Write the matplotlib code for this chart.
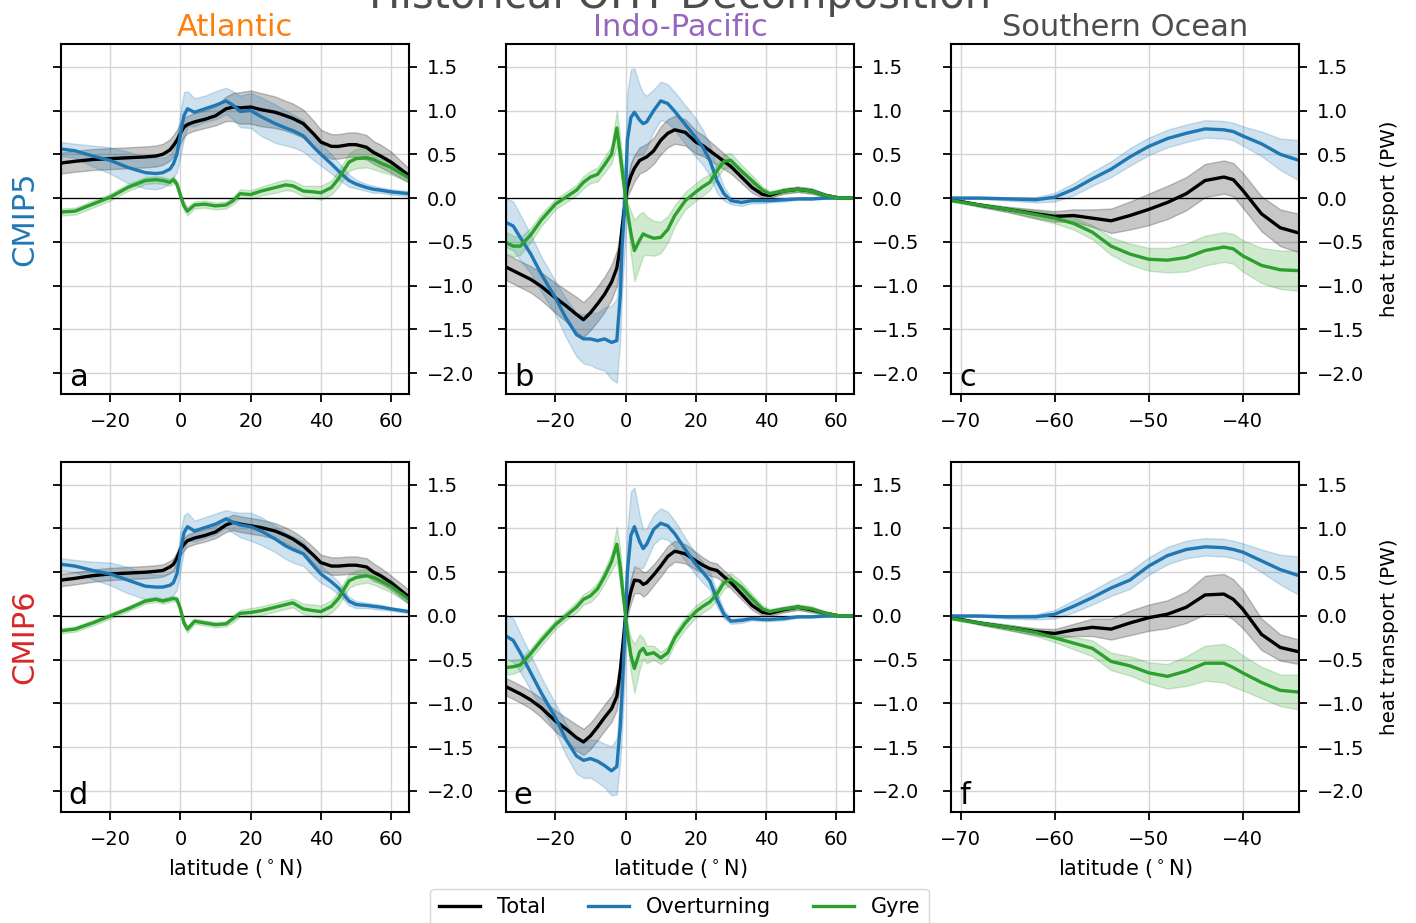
import numpy as np
import matplotlib
matplotlib.use("Agg")
import matplotlib.pyplot as plt

# ==============================
# 1. Data
# ==============================
# latitude grids
lat_atl = [-34, -30, -25, -20, -15, -10, -7, -5, -3, -2, -1, 0, 1, 2, 4, 7, 10, 13, 15, 17,
           20, 23, 27, 30, 32, 35, 38, 40, 43, 45, 48, 50, 53, 55, 57, 60, 65]
lat_ip = [-34, -32, -30, -27, -24, -20, -17, -14, -12, -10, -8, -6, -4, -2.5, -1.5, -1, 0,
          0.5, 1.5, 2.5, 4, 5, 6, 8, 10, 12, 14, 17, 20, 22, 24, 26, 28, 30, 33, 36, 39,
          41, 45, 49, 53, 57, 61, 65]
lat_so = [-71, -68, -65, -62, -60, -58, -56, -54, -52, -50, -48, -46, -44, -42, -41, -40,
          -38, -36, -34]

# --- (a) CMIP5 Atlantic
a_tot = [0.40, 0.42, 0.44, 0.45, 0.46, 0.47, 0.48, 0.50, 0.55, 0.60, 0.66, 0.74, 0.81, 0.84,
         0.87, 0.90, 0.94, 1.02, 1.04, 1.03, 1.04, 1.01, 0.98, 0.94, 0.91, 0.85, 0.73, 0.64,
         0.59, 0.59, 0.61, 0.61, 0.58, 0.52, 0.48, 0.41, 0.26]
a_tot_sd = [0.12, 0.12, 0.12, 0.12, 0.12, 0.12, 0.12, 0.12, 0.12, 0.12, 0.12, 0.12, 0.11, 0.10,
            0.10, 0.10, 0.11, 0.14, 0.16, 0.18, 0.19, 0.19, 0.18, 0.17, 0.17, 0.16, 0.15, 0.14,
            0.14, 0.14, 0.14, 0.14, 0.14, 0.13, 0.13, 0.12, 0.08]
a_ovt = [0.56, 0.54, 0.48, 0.43, 0.35, 0.29, 0.28, 0.29, 0.33, 0.39, 0.50, 0.73, 0.94, 1.02,
         0.98, 1.02, 1.06, 1.11, 1.06, 0.99, 1.00, 0.93, 0.85, 0.80, 0.77, 0.71, 0.58, 0.50,
         0.39, 0.31, 0.20, 0.16, 0.12, 0.10, 0.09, 0.07, 0.05]
a_ovt_sd = [0.08, 0.08, 0.12, 0.15, 0.18, 0.18, 0.18, 0.17, 0.16, 0.16, 0.20, 0.25, 0.27, 0.20,
            0.16, 0.15, 0.16, 0.15, 0.16, 0.18, 0.20, 0.22, 0.22, 0.20, 0.19, 0.18, 0.15, 0.13,
            0.11, 0.10, 0.07, 0.05, 0.04, 0.04, 0.03, 0.03, 0.03]
a_gyr = [-0.16, -0.15, -0.07, 0.01, 0.12, 0.20, 0.21, 0.20, 0.18, 0.21, 0.16, 0.03, -0.09, -0.15,
         -0.08, -0.07, -0.09, -0.08, -0.03, 0.05, 0.04, 0.08, 0.12, 0.15, 0.14, 0.08, 0.07, 0.06,
         0.12, 0.22, 0.41, 0.45, 0.46, 0.44, 0.40, 0.35, 0.23]
a_gyr_sd = [0.04, 0.04, 0.04, 0.04, 0.04, 0.04, 0.04, 0.04, 0.04, 0.04, 0.04, 0.04, 0.05, 0.05,
            0.04, 0.04, 0.04, 0.04, 0.04, 0.05, 0.05, 0.05, 0.06, 0.06, 0.06, 0.06, 0.07, 0.08,
            0.08, 0.09, 0.10, 0.11, 0.11, 0.11, 0.10, 0.08, 0.05]

# --- (d) CMIP6 Atlantic
d_tot = [0.41, 0.43, 0.46, 0.48, 0.49, 0.50, 0.51, 0.52, 0.56, 0.59, 0.66, 0.76, 0.82, 0.86,
         0.89, 0.92, 0.96, 1.04, 1.07, 1.05, 1.03, 1.01, 0.97, 0.92, 0.88, 0.80, 0.69, 0.61,
         0.57, 0.57, 0.58, 0.58, 0.56, 0.50, 0.46, 0.38, 0.22]
d_tot_sd = [0.07, 0.07, 0.07, 0.07, 0.07, 0.07, 0.07, 0.07, 0.07, 0.07, 0.07, 0.07, 0.07, 0.07,
            0.07, 0.07, 0.07, 0.08, 0.09, 0.09, 0.09, 0.09, 0.09, 0.09, 0.09, 0.09, 0.09, 0.09,
            0.10, 0.10, 0.10, 0.10, 0.10, 0.10, 0.09, 0.08, 0.08]
d_ovt = [0.59, 0.57, 0.52, 0.48, 0.41, 0.34, 0.33, 0.33, 0.35, 0.38, 0.48, 0.73, 0.95, 1.02,
         0.97, 1.01, 1.05, 1.11, 1.07, 1.04, 1.02, 0.97, 0.88, 0.80, 0.76, 0.71, 0.57, 0.48,
         0.39, 0.32, 0.17, 0.13, 0.12, 0.11, 0.10, 0.08, 0.05]
d_ovt_sd = [0.07, 0.07, 0.10, 0.13, 0.15, 0.15, 0.14, 0.14, 0.14, 0.14, 0.18, 0.22, 0.20, 0.16,
            0.12, 0.12, 0.12, 0.10, 0.12, 0.14, 0.16, 0.16, 0.15, 0.15, 0.15, 0.14, 0.12, 0.10,
            0.08, 0.07, 0.05, 0.04, 0.03, 0.03, 0.03, 0.02, 0.02]
d_gyr = [-0.17, -0.15, -0.08, 0.00, 0.08, 0.17, 0.19, 0.17, 0.19, 0.20, 0.19, 0.08, -0.08, -0.15,
         -0.06, -0.08, -0.10, -0.09, -0.03, 0.03, 0.04, 0.06, 0.10, 0.13, 0.15, 0.08, 0.06, 0.05,
         0.11, 0.20, 0.40, 0.44, 0.46, 0.44, 0.40, 0.34, 0.19]
d_gyr_sd = [0.03, 0.03, 0.03, 0.03, 0.03, 0.03, 0.03, 0.03, 0.03, 0.03, 0.03, 0.03, 0.04, 0.04,
            0.03, 0.03, 0.03, 0.03, 0.04, 0.04, 0.05, 0.05, 0.05, 0.05, 0.05, 0.06, 0.07, 0.07,
            0.07, 0.08, 0.08, 0.08, 0.08, 0.08, 0.08, 0.07, 0.05]

# --- (b) CMIP5 Indo-Pacific
b_tot = [-0.79, -0.83, -0.87, -0.93, -1.01, -1.14, -1.23, -1.33, -1.39, -1.31, -1.21, -1.10,
         -0.96, -0.80, -0.55, -0.34, 0.00, 0.12, 0.25, 0.34, 0.43, 0.45, 0.47, 0.54, 0.66,
         0.74, 0.78, 0.75, 0.64, 0.60, 0.54, 0.48, 0.42, 0.36, 0.24, 0.12, 0.04, 0.03, 0.08,
         0.10, 0.08, 0.03, 0.00, 0.00]
b_tot_sd = [0.15, 0.15, 0.15, 0.15, 0.16, 0.17, 0.18, 0.20, 0.20, 0.20, 0.20, 0.20, 0.20, 0.20,
            0.18, 0.15, 0.05, 0.10, 0.15, 0.15, 0.15, 0.15, 0.15, 0.15, 0.16, 0.16, 0.16, 0.15,
            0.13, 0.12, 0.11, 0.10, 0.09, 0.08, 0.07, 0.06, 0.04, 0.03, 0.03, 0.03, 0.03, 0.02,
            0.01, 0.01]
b_ovt = [-0.28, -0.32, -0.45, -0.64, -0.87, -1.14, -1.37, -1.56, -1.61, -1.61, -1.63, -1.61,
         -1.65, -1.63, -1.10, -0.56, 0.08, 0.66, 0.92, 0.98, 0.89, 0.85, 0.87, 1.00, 1.11,
         1.08, 0.99, 0.84, 0.69, 0.58, 0.43, 0.20, 0.05, -0.03, -0.05, -0.03, -0.03, -0.03,
         -0.02, -0.01, -0.01, 0.00, 0.00, 0.00]
b_ovt_sd = [0.28, 0.28, 0.26, 0.22, 0.20, 0.19, 0.22, 0.25, 0.28, 0.30, 0.32, 0.36, 0.42, 0.48,
            0.50, 0.50, 0.50, 0.55, 0.55, 0.50, 0.40, 0.35, 0.30, 0.24, 0.22, 0.22, 0.22, 0.22,
            0.22, 0.20, 0.18, 0.14, 0.08, 0.04, 0.04, 0.03, 0.03, 0.02, 0.02, 0.01, 0.01, 0.01,
            0.00, 0.00]
b_gyr = [-0.51, -0.55, -0.55, -0.42, -0.25, -0.07, 0.01, 0.09, 0.18, 0.24, 0.27, 0.38, 0.50,
         0.80, 0.49, 0.33, 0.00, -0.15, -0.40, -0.60, -0.48, -0.41, -0.43, -0.46, -0.45, -0.36,
         -0.20, -0.03, 0.07, 0.13, 0.18, 0.31, 0.42, 0.43, 0.31, 0.20, 0.09, 0.05, 0.08, 0.10,
         0.08, 0.03, 0.00, 0.00]
b_gyr_sd = [0.12, 0.12, 0.10, 0.08, 0.07, 0.06, 0.06, 0.06, 0.07, 0.07, 0.08, 0.09, 0.10, 0.20,
            0.20, 0.15, 0.05, 0.10, 0.25, 0.35, 0.30, 0.25, 0.22, 0.20, 0.18, 0.15, 0.12, 0.10,
            0.10, 0.10, 0.09, 0.08, 0.08, 0.08, 0.07, 0.06, 0.04, 0.03, 0.03, 0.03, 0.03, 0.02,
            0.01, 0.01]

# --- (e) CMIP6 Indo-Pacific
e_tot = [-0.81, -0.85, -0.89, -0.96, -1.05, -1.20, -1.29, -1.39, -1.44, -1.37, -1.27, -1.16,
         -1.06, -0.92, -0.62, -0.42, 0.00, 0.10, 0.28, 0.41, 0.40, 0.36, 0.38, 0.47, 0.57,
         0.68, 0.74, 0.71, 0.63, 0.58, 0.54, 0.52, 0.45, 0.38, 0.25, 0.12, 0.04, 0.03, 0.07,
         0.10, 0.07, 0.03, 0.00, 0.00]
e_tot_sd = [0.10, 0.10, 0.10, 0.10, 0.11, 0.12, 0.13, 0.15, 0.15, 0.15, 0.15, 0.15, 0.15, 0.15,
            0.15, 0.12, 0.05, 0.10, 0.14, 0.15, 0.14, 0.14, 0.13, 0.12, 0.12, 0.12, 0.12, 0.11,
            0.10, 0.09, 0.08, 0.08, 0.07, 0.07, 0.06, 0.05, 0.04, 0.03, 0.03, 0.03, 0.03, 0.02,
            0.01, 0.01]
e_ovt = [-0.23, -0.28, -0.42, -0.65, -0.88, -1.16, -1.41, -1.60, -1.65, -1.63, -1.66, -1.71,
         -1.77, -1.72, -1.25, -0.87, 0.00, 0.50, 0.92, 1.02, 0.85, 0.77, 0.82, 0.99, 1.06,
         1.03, 0.94, 0.76, 0.59, 0.50, 0.40, 0.19, 0.02, -0.06, -0.05, -0.03, -0.04, -0.04,
         -0.03, -0.01, -0.01, 0.00, 0.00, 0.00]
e_ovt_sd = [0.25, 0.25, 0.22, 0.20, 0.18, 0.16, 0.18, 0.20, 0.20, 0.22, 0.24, 0.25, 0.28, 0.32,
            0.40, 0.45, 0.45, 0.50, 0.50, 0.45, 0.30, 0.22, 0.18, 0.17, 0.17, 0.16, 0.15, 0.13,
            0.12, 0.12, 0.10, 0.08, 0.05, 0.03, 0.03, 0.02, 0.02, 0.02, 0.02, 0.01, 0.01, 0.01,
            0.00, 0.00]
e_gyr = [-0.59, -0.58, -0.56, -0.43, -0.28, -0.10, 0.00, 0.10, 0.19, 0.23, 0.31, 0.45, 0.62,
         0.82, 0.55, 0.35, 0.00, -0.18, -0.45, -0.60, -0.41, -0.37, -0.44, -0.42, -0.48, -0.42,
         -0.25, -0.08, 0.05, 0.11, 0.16, 0.25, 0.38, 0.42, 0.33, 0.20, 0.08, 0.05, 0.08, 0.10,
         0.08, 0.03, 0.00, 0.00]
e_gyr_sd = [0.08, 0.08, 0.07, 0.06, 0.06, 0.05, 0.05, 0.06, 0.06, 0.07, 0.07, 0.08, 0.10, 0.20,
            0.20, 0.15, 0.05, 0.10, 0.20, 0.28, 0.20, 0.12, 0.10, 0.08, 0.07, 0.07, 0.07, 0.07,
            0.07, 0.07, 0.07, 0.07, 0.07, 0.07, 0.06, 0.05, 0.04, 0.03, 0.03, 0.03, 0.03, 0.02,
            0.01, 0.01]

# --- (c) CMIP5 Southern Ocean
c_tot = [-0.02, -0.08, -0.13, -0.18, -0.21, -0.20, -0.23, -0.26, -0.20, -0.13, -0.05, 0.05,
         0.20, 0.24, 0.21, 0.09, -0.18, -0.34, -0.40]
c_tot_sd = [0.01, 0.02, 0.03, 0.05, 0.06, 0.07, 0.10, 0.14, 0.16, 0.18, 0.19, 0.19, 0.19, 0.19,
            0.19, 0.20, 0.20, 0.21, 0.22]
c_ovt = [0.00, 0.00, -0.01, -0.02, 0.01, 0.10, 0.22, 0.33, 0.47, 0.59, 0.68, 0.74, 0.79, 0.78,
         0.76, 0.71, 0.62, 0.50, 0.43]
c_ovt_sd = [0.01, 0.01, 0.02, 0.03, 0.05, 0.07, 0.08, 0.09, 0.10, 0.10, 0.10, 0.10, 0.10, 0.10,
            0.10, 0.11, 0.14, 0.18, 0.23]
c_gyr = [-0.03, -0.08, -0.13, -0.19, -0.23, -0.29, -0.39, -0.55, -0.64, -0.70, -0.71, -0.68,
         -0.60, -0.56, -0.58, -0.66, -0.77, -0.82, -0.83]
c_gyr_sd = [0.01, 0.02, 0.03, 0.05, 0.06, 0.07, 0.08, 0.10, 0.12, 0.13, 0.14, 0.16, 0.17, 0.17,
            0.17, 0.18, 0.20, 0.22, 0.23]

# --- (f) CMIP6 Southern Ocean
f_tot = [-0.02, -0.08, -0.13, -0.18, -0.20, -0.16, -0.13, -0.15, -0.08, -0.02, 0.02, 0.10,
         0.24, 0.25, 0.19, 0.08, -0.21, -0.36, -0.41]
f_tot_sd = [0.01, 0.02, 0.03, 0.04, 0.05, 0.07, 0.10, 0.12, 0.14, 0.15, 0.16, 0.18, 0.22, 0.23,
            0.23, 0.22, 0.18, 0.15, 0.14]
f_ovt = [0.00, 0.00, -0.01, -0.01, 0.02, 0.11, 0.21, 0.32, 0.41, 0.57, 0.69, 0.76, 0.79, 0.78,
         0.76, 0.73, 0.63, 0.53, 0.46]
f_ovt_sd = [0.01, 0.01, 0.02, 0.03, 0.05, 0.07, 0.08, 0.09, 0.10, 0.10, 0.10, 0.10, 0.10, 0.10,
            0.10, 0.10, 0.13, 0.17, 0.22]
f_gyr = [-0.03, -0.08, -0.13, -0.19, -0.25, -0.31, -0.37, -0.52, -0.57, -0.65, -0.69, -0.63,
         -0.54, -0.54, -0.59, -0.65, -0.76, -0.85, -0.87]
f_gyr_sd = [0.01, 0.02, 0.03, 0.04, 0.05, 0.07, 0.09, 0.10, 0.11, 0.12, 0.14, 0.17, 0.20, 0.22,
            0.22, 0.20, 0.18, 0.18, 0.20]

basin_titles = ["Atlantic", "Indo-Pacific", "Southern Ocean"]
basin_colors = ["C1", "C4", "#4d4d4d"]
row_labels = ["CMIP5", "CMIP6"]
row_colors = ["C0", "C3"]
panel_letters = [["a", "b", "c"], ["d", "e", "f"]]
series_names = ["Total", "Overturning", "Gyre"]
series_colors = ["k", "C0", "C2"]

panels = [
    [(lat_atl, [(a_tot, a_tot_sd), (a_ovt, a_ovt_sd), (a_gyr, a_gyr_sd)]),
     (lat_ip, [(b_tot, b_tot_sd), (b_ovt, b_ovt_sd), (b_gyr, b_gyr_sd)]),
     (lat_so, [(c_tot, c_tot_sd), (c_ovt, c_ovt_sd), (c_gyr, c_gyr_sd)])],
    [(lat_atl, [(d_tot, d_tot_sd), (d_ovt, d_ovt_sd), (d_gyr, d_gyr_sd)]),
     (lat_ip, [(e_tot, e_tot_sd), (e_ovt, e_ovt_sd), (e_gyr, e_gyr_sd)]),
     (lat_so, [(f_tot, f_tot_sd), (f_ovt, f_ovt_sd), (f_gyr, f_gyr_sd)])],
]

# ==============================
# 2. Plot
# ==============================
fig, axes = plt.subplots(2, 3, figsize=(14.16, 9.23), dpi=100)
fig.subplots_adjust(left=0.0431, right=0.9174, bottom=0.1203, top=0.9523,
                    wspace=0.2806, hspace=0.194)

handles = []
for r in range(2):
    for c in range(3):
        ax = axes[r, c]
        lat, series = panels[r][c]
        lat = np.array(lat)
        for (mean, sd), col, name in zip(series, series_colors, series_names):
            mean = np.array(mean)
            sd = np.array(sd)
            ax.fill_between(lat, mean - sd, mean + sd, color=col, alpha=0.22, lw=1.0)
            ln, = ax.plot(lat, mean, color=col, lw=2.4, label=name)
            if r == 0 and c == 0:
                handles.append(ln)

        ax.axhline(0, color="k", lw=0.9, zorder=1)
        ax.grid(True, color="#d4d4d4", lw=1.0)
        ax.set_axisbelow(True)

        if c < 2:
            ax.set_xlim(-34, 65)
            ax.set_xticks([-20, 0, 20, 40, 60])
        else:
            ax.set_xlim(-71, -34)
            ax.set_xticks([-70, -60, -50, -40])
        ax.set_ylim(-2.24, 1.76)
        ax.set_yticks([-2.0, -1.5, -1.0, -0.5, 0.0, 0.5, 1.0, 1.5])

        ax.tick_params(axis="y", left=True, right=True, labelleft=False, labelright=True)
        ax.tick_params(labelsize=14, length=6, width=1.3, pad=7)
        for sp in ax.spines.values():
            sp.set_linewidth(1.5)

        if r == 0:
            ax.set_title(basin_titles[c], color=basin_colors[c], fontsize=22, pad=6)
        else:
            ax.set_xlabel(r"latitude ($^\circ$N)", fontsize=15, labelpad=6)
        if c == 2:
            ax.yaxis.set_label_position("right")
            ax.set_ylabel("heat transport (PW)", fontsize=14.3, labelpad=11)

        ax.text(0.022, 0.022, panel_letters[r][c], transform=ax.transAxes,
                fontsize=22, va="baseline", ha="left")

# row labels
for r in range(2):
    pos = axes[r, 0].get_position()
    fig.text(0.0177, (pos.y0 + pos.y1) / 2, row_labels[r], rotation=90,
             color=row_colors[r], fontsize=22, ha="center", va="center")

fig.text(0.48, 1 - 8 / 923, "Historical OHT Decomposition", ha="center", va="baseline",
         fontsize=30, color="#4d4d4d")

fig.legend(handles, series_names, loc="upper center", bbox_to_anchor=(0.48, 1 - 889 / 923),
           ncol=3, fontsize=15, frameon=True, borderaxespad=0)

fig.savefig("out.png", dpi=100)
